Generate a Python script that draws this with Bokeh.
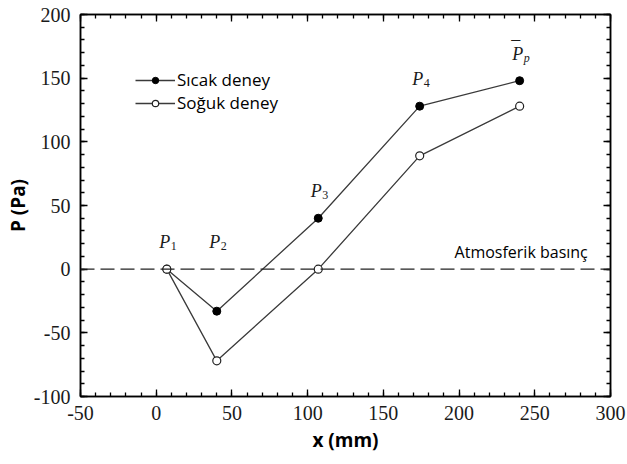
from bokeh.plotting import figure
from bokeh.models import (LinearAxis, Range1d, Legend, LegendItem, FixedTicker, ColumnDataSource, Span,
                          PrintfTickFormatter)
from bokeh.core.properties import value
from bokeh.embed import file_html
from bokeh.resources import INLINE

# ---- data ----
x_mm = [7, 40, 107, 174, 240]
sicak = [0, -33, 40, 128, 148]
soguk = [0, -72, 0, 89, 128]
label_main = ["P", "P", "P", "P", "P"]
label_sub = ["1", "2", "3", "4", "p"]
label_sub_style = ["normal", "normal", "normal", "normal", "italic"]
label_y = [0, 0, 40, 128, 148]
bar_x = [240]
bar_y = [148]
x_major = [-50, 0, 50, 100, 150, 200, 250, 300]
y_major = [-100, -50, 0, 50, 100, 150, 200]
x_minor = list(range(-50, 301, 10))
y_minor = list(range(-100, 201, 10))

serif = "Liberation Serif"
sans = "Open Sans"
ink = "#1a1a1a"
line_c = "#3a3a3a"

p = figure(width=627, height=464, x_range=Range1d(-50, 300), y_range=Range1d(-100, 200),
           output_backend="svg", toolbar_location=None,
           min_border_left=80, min_border_right=17, min_border_top=14, min_border_bottom=68,
           x_axis_label="x (mm)", y_axis_label="P (Pa)")
p.grid.visible = False
p.outline_line_color = "black"
p.outline_line_width = 1.5
p.background_fill_color = "white"
p.border_fill_color = "white"

for ax in p.xaxis:
    ax.ticker = FixedTicker(ticks=x_major, minor_ticks=x_minor)
for ax in p.yaxis:
    ax.ticker = FixedTicker(ticks=y_major, minor_ticks=y_minor)

for ax in list(p.xaxis) + list(p.yaxis):
    ax.formatter = PrintfTickFormatter(format="%d")
    ax.major_tick_in = 7
    ax.major_tick_out = 0
    ax.minor_tick_in = 4
    ax.minor_tick_out = 0
    ax.axis_line_color = "black"
    ax.axis_line_width = 1.5
    ax.major_tick_line_color = "black"
    ax.minor_tick_line_color = "black"
    ax.major_tick_line_width = 1.3
    ax.minor_tick_line_width = 1.3
    ax.major_label_text_font = serif
    ax.major_label_text_font_size = "20px"
    ax.major_label_text_color = ink
    ax.axis_label_text_font = sans
    ax.axis_label_text_font_style = "bold"
    ax.axis_label_text_font_size = "19px"
    ax.axis_label_text_color = "black"

p.xaxis.major_label_standoff = 9
p.xaxis.axis_label_standoff = 4
p.yaxis.major_label_standoff = 10
p.yaxis.axis_label_standoff = 0

# mirror axes
top = LinearAxis(ticker=FixedTicker(ticks=x_major, minor_ticks=x_minor), major_label_text_font_size="0px",
                 major_label_standoff=0)
right = LinearAxis(ticker=FixedTicker(ticks=y_major, minor_ticks=y_minor), major_label_text_font_size="0px",
                   major_label_standoff=0)
for ax in (top, right):
    ax.major_tick_in = 7
    ax.major_tick_out = 0
    ax.minor_tick_in = 4
    ax.minor_tick_out = 0
    ax.axis_line_color = "black"
    ax.axis_line_width = 1.5
    ax.major_tick_line_width = 1.3
    ax.minor_tick_line_width = 1.3
p.add_layout(top, "above")
p.add_layout(right, "right")

# atmospheric line
p.add_layout(Span(location=0, dimension="width", line_color="#222222", line_width=1.3, line_dash="14 6"))
p.text(x=[285], y=[0], text=["Atmosferik basınç"], text_font=value(sans), text_font_size="16px",
       text_color="black", text_align="right", text_baseline="alphabetic", y_offset=-17)

src = ColumnDataSource(dict(x=x_mm, hot=sicak, cold=soguk, ly=label_y, main=label_main,
                            sub=label_sub, sub_style=label_sub_style))

l1 = p.line("x", "hot", source=src, line_color=line_c, line_width=1.3)
c1 = p.scatter("x", "hot", source=src, size=8, fill_color="black", line_color="black")
l2 = p.line("x", "cold", source=src, line_color=line_c, line_width=1.3)
c2 = p.scatter("x", "cold", source=src, size=8, fill_color="white", line_color="#222222", line_width=1.2)

# point labels
p.text("x", "ly", text="main", source=src, text_font=value(serif), text_font_style="italic",
       text_font_size="18px", text_color=ink, text_align="center", text_baseline="alphabetic",
       x_offset=-2, y_offset=-27)
p.text("x", "ly", text="sub", source=src, text_font=value(serif), text_font_style="sub_style",
       text_font_size="12px", text_color=ink, text_align="left", text_baseline="alphabetic",
       x_offset=4, y_offset=-23)
p.text(x=bar_x, y=bar_y, text=["\u00af"], text_font=value(serif), text_font_size="18px",
       text_color=ink, text_align="center", text_baseline="alphabetic", x_offset=-4, y_offset=-33)

legend = Legend(items=[LegendItem(label="Sıcak deney", renderers=[l1, c1]),
                       LegendItem(label="Soğuk deney", renderers=[l2, c2])],
                location=(55, 282), padding=0, spacing=0, margin=0,
                glyph_width=40, glyph_height=16, label_height=22, label_standoff=2,
                label_text_font=sans, label_text_font_size="17px", label_text_color="black",
                border_line_alpha=0, background_fill_alpha=0)
p.add_layout(legend)

open("out.html", "w").write(file_html(p, INLINE))
